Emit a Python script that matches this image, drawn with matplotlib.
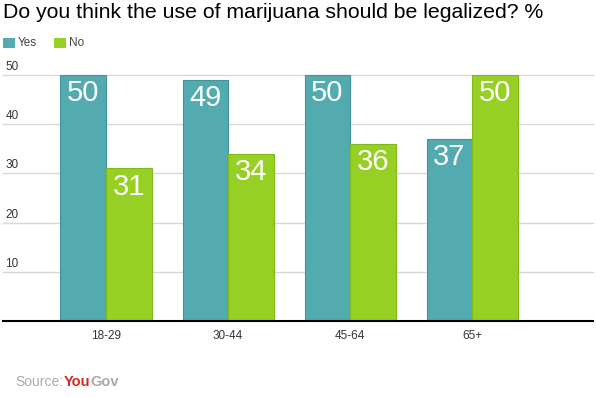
import matplotlib
matplotlib.use("Agg")
import matplotlib.pyplot as plt
import numpy as np

categories = ["18-29", "30-44", "45-64", "65+"]
yes_vals = [50, 49, 50, 37]
no_vals = [31, 34, 36, 50]
yticks = [10, 20, 30, 40, 50]
title = "Do you think the use of marijuana should be legalized? %"

YES_C = "#53abb0"
NO_C = "#97d025"
YES_E = "#3f9499"
NO_E = "#7fb81a"

plt.rcParams['font.family'] = ['Liberation Sans', 'DejaVu Sans']

fig = plt.figure(figsize=(5.96, 3.98), dpi=100)
ax = fig.add_axes([3/596, 77/398, 590/596, 246/398])
ax.set_xlim(-0.844, 3.99)
ax.set_ylim(0, 50)
for s in ax.spines.values():
    s.set_visible(False)
ax.set_xticks([])
ax.set_yticks([])

for t in yticks:
    ax.axhline(t, color="#d8d8d8", lw=1, zorder=0, clip_on=False)
    ax.annotate(str(t), xy=(0, t), xycoords=('axes fraction', 'data'),
                xytext=(1.8, 1.5), textcoords='offset points', ha='left', va='bottom',
                fontsize=8.5, color='#333333')

ax.axhline(0, color="black", lw=1.5, zorder=3, clip_on=False)

x = np.arange(len(categories))
w = 0.373
b1 = ax.bar(x - w/2, yes_vals, w, color=YES_C, edgecolor=YES_E, linewidth=0.8, zorder=2)
b2 = ax.bar(x + w/2, no_vals, w, color=NO_C, edgecolor=NO_E, linewidth=0.8, zorder=2)

for bars, vals in ((b1, yes_vals), (b2, no_vals)):
    for r, v in zip(bars, vals):
        ax.annotate(str(v), xy=(r.get_x() + r.get_width()/2, v),
                    xytext=(0, -3), textcoords='offset points',
                    ha='center', va='top', fontsize=21, color='white', zorder=4)

for xi, c in zip(x, categories):
    ax.annotate(c, xy=(xi, 0), xytext=(0, -6.5), textcoords='offset points',
                ha='center', va='top', fontsize=8.5, color='#333333')

fig.text(3/596, 1 - 12/398, title, fontsize=15.3, color='black', ha='left', va='center')

# legend
from matplotlib.patches import Rectangle
fig.patches.append(Rectangle((3/596, 1 - 48/398), 12/596, 10/398, transform=fig.transFigure,
                             facecolor=YES_C, edgecolor='none'))
fig.text(18/596, 1 - 43/398, "Yes", fontsize=8.5, color='#444444', ha='left', va='center')
fig.patches.append(Rectangle((54/596, 1 - 48/398), 12/596, 10/398, transform=fig.transFigure,
                             facecolor=NO_C, edgecolor='none'))
fig.text(69/596, 1 - 43/398, "No", fontsize=8.5, color='#444444', ha='left', va='center')

# source
fig.text(15/596, 1 - 382/398, "Source:", fontsize=10, color='#aaaaaa', ha='left', va='center')
fig.text(64/596, 1 - 382/398, "You", fontsize=10.5, color='#d6261e', ha='left', va='center', fontweight='bold')
fig.text(90/596, 1 - 382/398, "Gov", fontsize=10.5, color='#a8a8a8', ha='left', va='center', fontweight='bold')

fig.savefig("out.png", dpi=100)
